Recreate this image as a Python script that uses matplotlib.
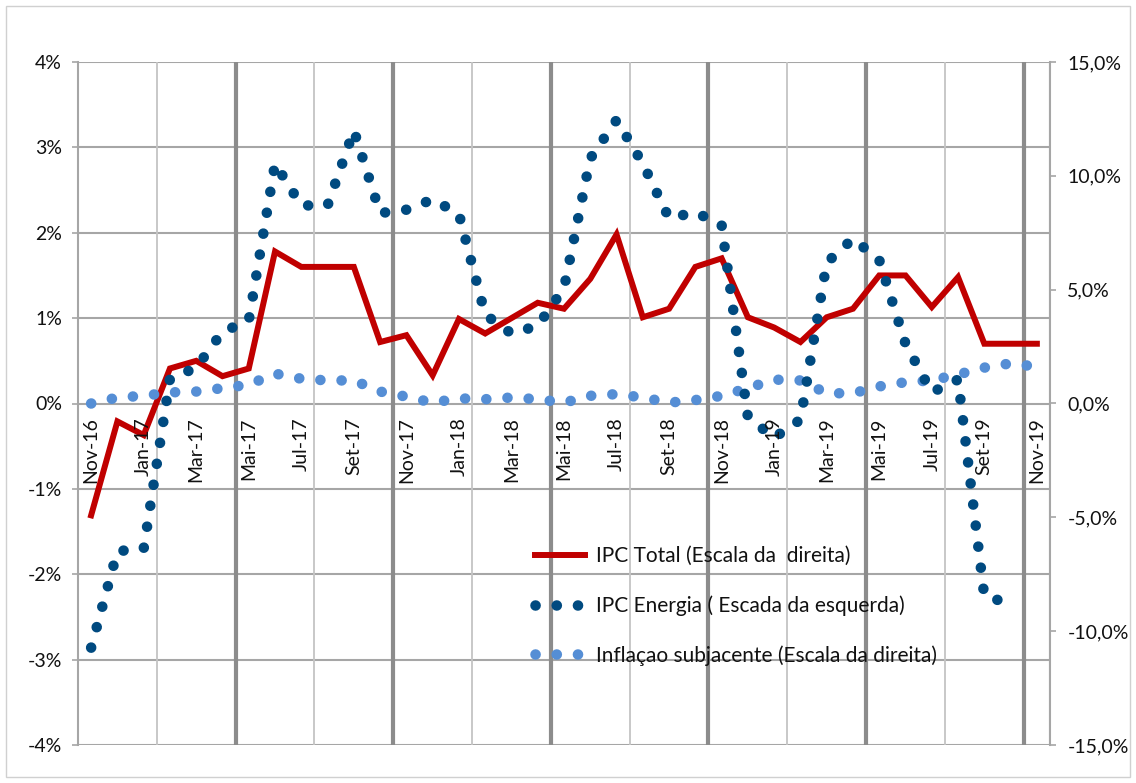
import matplotlib
matplotlib.use("Agg")
import matplotlib.pyplot as plt
import numpy as np
from matplotlib.lines import Line2D
from matplotlib.patches import Rectangle

plt.rcParams['font.family'] = ['Lato', 'DejaVu Sans']

# ---- data (values in %, read on the left scale) ----
months = ['Nov-16', 'Dez-16', 'Jan-17', 'Fev-17', 'Mar-17', 'Abr-17', 'Mai-17', 'Jun-17',
          'Jul-17', 'Ago-17', 'Set-17', 'Out-17', 'Nov-17', 'Dez-17', 'Jan-18', 'Fev-18',
          'Mar-18', 'Abr-18', 'Mai-18', 'Jun-18', 'Jul-18', 'Ago-18', 'Set-18', 'Out-18',
          'Nov-18', 'Dez-18', 'Jan-19', 'Fev-19', 'Mar-19', 'Abr-19', 'Mai-19', 'Jun-19',
          'Jul-19', 'Ago-19', 'Set-19', 'Out-19', 'Nov-19']

ipc_total = [-1.31, -0.21, -0.37, 0.41, 0.50, 0.32, 0.41, 1.78, 1.60, 1.60, 1.60, 0.72,
             0.80, 0.33, 0.99, 0.82, 1.00, 1.18, 1.11, 1.46, 1.98, 1.01, 1.11, 1.60,
             1.70, 1.01, 0.89, 0.72, 1.01, 1.11, 1.50, 1.50, 1.13, 1.48, 0.70, 0.70, 0.70]

ipc_energia = [-2.86, -1.73, -1.70, 0.29, 0.42, 0.84, 0.97, 2.81, 2.32, 2.32, 3.20, 2.23,
               2.27, 2.39, 2.22, 1.04, 0.82, 0.91, 1.35, 2.87, 3.32, 2.81, 2.17, 2.24,
               2.09, -0.16, -0.40, -0.19, 1.65, 1.93, 1.68, 0.70, 0.13, 0.28, -2.26, -2.34,
               np.nan]

inflacao_subjacente = [0.00, 0.07, 0.09, 0.13, 0.14, 0.18, 0.22, 0.35, 0.29, 0.27, 0.27, 0.14,
                       0.08, 0.01, 0.06, 0.05, 0.07, 0.05, 0.01, 0.09, 0.11, 0.07, 0.01, 0.04,
                       0.09, 0.18, 0.28, 0.27, 0.12, 0.12, 0.20, 0.25, 0.27, 0.34, 0.42, 0.47,
                       0.43]

left_ticks = [-4, -3, -2, -1, 0, 1, 2, 3, 4]
right_ticks = [-15, -10, -5, 0, 5, 10, 15]

labels = ['IPC Total (Escala da  direita)',
          'IPC Energia ( Escada da esquerda)',
          'Inflaçao subjacente (Escala da direita)']

# ---- figure ----
W, H = 1136, 783
fig = plt.figure(figsize=(W / 100, H / 100), dpi=100)
ax = fig.add_axes([78 / W, 1 - 745 / H, (1050 - 78) / W, (745 - 62) / H])

x = np.arange(len(months))
RED = '#C00000'
DARK = '#004A80'
LIGHT = '#558ED5'
TXT = '#111111'
FS = 14

# grid
for yv in left_ticks:
    ax.axhline(yv, color='#A6A6A6', lw=1.5, zorder=1)
for k in range(13):
    xv = -0.5 + 3 * k
    ax.axvline(xv, color='#C4C4C4', lw=1.3, zorder=1)
ax.axvline(len(months) - 0.5, color='#A6A6A6', lw=1.5, zorder=1)
for k in range(6):
    ax.axvline(5.5 + 6 * k, color='#8C8C8C', lw=3.0, zorder=1.5)

# series
DOT = dict(lw=7.6, dashes=[0.01, 2.0], dash_capstyle='round')
ax.plot(x, ipc_total, color=RED, lw=4.3, solid_joinstyle='miter', zorder=3)
ax.plot(x, inflacao_subjacente, color=LIGHT, zorder=4, **DOT)
ax.plot(x, ipc_energia, color=DARK, zorder=5, **DOT)

ax.set_xlim(-0.5, len(months) - 0.5)
ax.set_ylim(-4, 4)

for s in ['top', 'bottom', 'right']:
    ax.spines[s].set_visible(False)
ax.spines['left'].set_color('#A6A6A6')
ax.spines['left'].set_linewidth(1.5)

ax.set_yticks(left_ticks)
ax.set_yticklabels([f'{v}%' for v in left_ticks])
ax.tick_params(axis='y', length=4.5, width=1.2, color='#A6A6A6', pad=7,
               labelsize=FS, labelcolor=TXT)

# x labels at the zero line
ax.set_xticks([])
for i in range(0, len(months), 2):
    ax.annotate(months[i], xy=(i, 0), xycoords='data', xytext=(0, -10),
                textcoords='offset points', rotation=90, ha='center', va='top',
                fontsize=FS, color=TXT, zorder=6)

# right axis
ax2 = ax.twinx()
ax2.set_ylim(-15, 15)
ax2.set_yticks(right_ticks)
ax2.set_yticklabels([f'{v:.1f}%'.replace('.', ',') for v in right_ticks])
ax2.tick_params(axis='y', length=4.5, width=1.2, color='#A6A6A6', pad=8,
                labelsize=FS, labelcolor=TXT)
for s in ['top', 'bottom', 'left']:
    ax2.spines[s].set_visible(False)
ax2.spines['right'].set_color('#A6A6A6')
ax2.spines['right'].set_linewidth(1.5)

# legend
handles = [Line2D([], [], color=RED, lw=4.3),
           Line2D([], [], color=DARK, **DOT),
           Line2D([], [], color=LIGHT, **DOT)]
leg = ax.legend(handles, labels, loc='center left', bbox_to_anchor=(0.470, 0.2035),
                frameon=False, fontsize=15, handlelength=2.4, handletextpad=0.53,
                labelspacing=1.4, borderpad=0, borderaxespad=0)
for t in leg.get_texts():
    t.set_color(TXT)
leg.set_zorder(7)

# chart-area border
fig.patches.append(Rectangle((6 / W, 6 / H), 1 - 12 / W, 1 - 12 / H, transform=fig.transFigure,
                             fill=False, edgecolor='#D0D0D0', lw=1.0))

fig.savefig('out.png', dpi=100)
